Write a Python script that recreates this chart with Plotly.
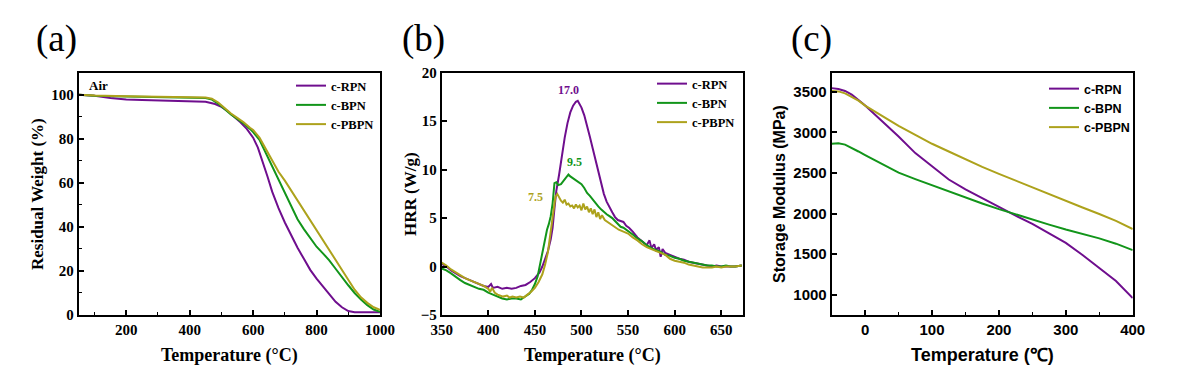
import plotly.graph_objects as go

W, H = 1196, 373
PURPLE = "#6f0e8e"
GREEN = "#12951a"
OLIVE = "#ada21c"
SERIF = "Liberation Serif, Times New Roman, serif"
SANS = "Liberation Sans, Arial, sans-serif"

names = ["c-RPN", "c-BPN", "c-PBPN"]

# ---- (a) TGA ----
tga_T_rpn = [50, 100, 150, 200, 250, 300, 350, 400, 450, 480, 500, 520, 540, 560, 580, 600, 615, 630, 645, 660,
             680, 700, 720, 740, 760, 780, 800, 820, 840, 860, 880, 900, 910, 920, 950, 1000]
tga_rpn = [100, 99.5, 98.5, 97.8, 97.6, 97.4, 97.3, 97.2, 96.8, 95.8, 94.5, 92.5, 90, 87.5, 84.5, 80.5, 76, 70, 63, 56,
           48.5, 42, 36, 30.5, 25.5, 20.5, 16.5, 12.8, 9.5, 6, 3.5, 1.8, 1.4, 1.3, 1.3, 1.3]
tga_T = [50, 100, 200, 300, 400, 450, 470, 490, 510, 530, 550, 570, 590, 600, 620, 640, 660, 680, 700, 720,
         740, 760, 780, 800, 820, 840, 860, 880, 900, 920, 940, 960, 980, 1000]
tga_bpn = [100, 99.5, 99.2, 99, 98.8, 98.5, 97.8, 96, 93.5, 91, 89, 87, 84.5, 83, 79.5, 73.5, 67, 61, 55, 49.5,
           43.5, 39, 35, 31, 28, 24.8, 21, 17, 13.5, 10, 7, 4.5, 2.5, 1.5]
tga_pbpn = [100, 99.6, 99.3, 99.1, 98.9, 98.7, 98.2, 96.5, 94, 91.5, 89.5, 87.5, 85, 84, 80.5, 75.5, 70, 65, 61, 56.5,
            52, 48, 43.5, 38.5, 34.5, 30, 25, 20.5, 16, 11.5, 8, 5.5, 3.5, 2.3]

# ---- (b) HRR ----
hrr_T_rpn = [350, 355, 360, 365, 370, 375, 380, 385, 390, 395, 400, 403, 405, 410, 415, 420, 425, 430, 435, 440,
             445, 450, 455, 458, 461, 464, 467, 469, 471, 473, 476, 479, 482, 485, 488, 491, 494, 496, 498, 500,
             503, 506, 509, 512, 515, 518, 521, 524, 527, 530, 533, 536, 539, 542, 545, 548, 551, 555, 560, 565,
             570, 573, 575, 578, 580, 583, 585, 587, 590, 595, 600, 605, 610, 615, 620, 625, 630, 635, 640, 645,
             650, 655, 660, 665, 672]
hrr_rpn = [0.3, 0.0, -0.4, -0.7, -1.0, -1.2, -1.4, -1.6, -1.8, -2.0, -2.1, -1.8, -2.2, -2.1, -2.3, -2.2, -2.3, -2.2, -2.0, -1.9,
           -1.6, -1.2, -0.6, 0.0, 0.8, 1.6, 2.8, 4.0, 6.0, 7.8, 9.5, 11.5, 13.3, 14.8, 15.9, 16.6, 17.0, 17.1, 16.8, 16.4,
           15.6, 14.6, 13.4, 12.2, 11.0, 9.8, 8.6, 7.5, 6.7, 6.1, 5.6, 5.1, 4.8, 4.7, 4.6, 4.2, 4.0, 3.6, 3.0, 2.6,
           2.2, 2.7, 1.9, 2.3, 1.7, 2.0, 1.0, 1.8, 1.4, 1.2, 1.0, 0.8, 0.7, 0.5, 0.4, 0.3, 0.2, 0.1, 0.0, 0.1,
           0.0, 0.0, 0.0, 0.0, 0.1]
hrr_T_bpn = [350, 355, 360, 365, 370, 375, 380, 385, 390, 395, 400, 405, 410, 415, 420, 425, 430, 435, 438, 441,
             444, 447, 450, 453, 455, 457, 459, 461, 463, 465, 467, 469, 471, 473, 475, 478, 481, 484, 486, 488,
             491, 494, 497, 500, 503, 506, 509, 512, 515, 518, 521, 524, 527, 530, 533, 536, 539, 542, 545, 548,
             551, 555, 560, 565, 570, 575, 580, 585, 590, 595, 600, 605, 610, 615, 620, 625, 630, 635, 640, 645,
             650, 655, 660, 665, 672]
hrr_bpn = [-0.2, -0.4, -0.7, -1.1, -1.4, -1.7, -1.9, -2.1, -2.3, -2.4, -2.7, -2.9, -3.1, -3.3, -3.4, -3.3, -3.3, -3.4, -3.2, -3.0,
           -2.8, -2.4, -1.8, -1.0, 0.0, 0.8, 1.8, 3.0, 3.8, 4.4, 5.2, 6.5, 8.6, 8.7, 8.4, 8.5, 8.9, 9.3, 9.5, 9.3,
           9.1, 8.9, 8.7, 8.5, 8.1, 7.6, 7.3, 6.9, 6.5, 6.2, 5.9, 5.6, 5.4, 5.2, 5.0, 4.7, 4.4, 4.1, 4.0, 3.8,
           3.6, 3.3, 2.9, 2.6, 2.2, 1.9, 1.7, 1.5, 1.2, 1.1, 0.9, 0.8, 0.6, 0.5, 0.4, 0.3, 0.2, 0.1, 0.1, 0.0,
           0.0, 0.1, 0.0, 0.0, 0.1]
hrr_T_pbpn = [350, 355, 360, 365, 370, 375, 380, 385, 390, 395, 400, 402, 404, 407, 410, 413, 416, 420, 423, 426,
              430, 434, 438, 442, 446, 450, 454, 458, 461, 464, 466, 468, 470, 472, 474, 476, 478, 480, 482, 484,
              486, 488, 490, 492, 494, 496, 498, 500, 502, 504, 506, 508, 510, 512, 514, 516, 518, 520, 522, 525,
              528, 531, 534, 537, 540, 545, 550, 555, 560, 565, 570, 575, 580, 585, 590, 595, 600, 605, 610, 615,
              620, 625, 630, 635, 640, 645, 650, 655, 660, 665, 672]
hrr_pbpn = [0.4, 0.1, -0.3, -0.6, -0.9, -1.2, -1.4, -1.6, -1.8, -2.0, -2.3, -2.6, -2.2, -2.7, -2.9, -3.0, -3.1, -3.0, -3.2, -3.1,
            -3.2, -3.1, -3.2, -2.9, -2.6, -2.2, -1.6, -0.8, 0.2, 1.5, 3.0, 4.6, 6.2, 7.2, 7.5, 7.1, 6.8, 6.6, 6.9, 6.4,
            6.5, 6.2, 6.3, 6.0, 6.4, 6.1, 6.3, 5.8, 6.5, 5.9, 6.2, 5.6, 6.0, 5.4, 5.9, 5.1, 5.6, 4.9, 5.3, 4.8,
            4.6, 4.4, 4.2, 4.0, 3.8, 3.6, 3.4, 3.0, 2.7, 2.3, 2.0, 1.8, 1.6, 1.4, 1.2, 0.8, 0.6, 0.5, 0.4, 0.2,
            0.1, 0.0, -0.1, -0.1, -0.1, 0.0, -0.1, 0.0, 0.0, 0.0, 0.1]
peak_labels = ["17.0", "9.5", "7.5"]
peak_x = [486, 493, 451]
peak_y = [18.2, 10.8, 7.2]

# ---- (c) DMA ----
dma_T = [-50, -40, -30, -20, -10, 0, 25, 50, 75, 100, 125, 150, 175, 200, 225, 250, 275, 300, 325, 350, 375, 400]
dma_rpn = [3545, 3535, 3510, 3465, 3400, 3330, 3140, 2950, 2745, 2580, 2420, 2300, 2190, 2080, 1975, 1875, 1760, 1640,
           1490, 1330, 1170, 960]
dma_bpn = [2860, 2865, 2850, 2810, 2765, 2720, 2615, 2505, 2425, 2350, 2270, 2195, 2125, 2055, 1990, 1925, 1865, 1805,
           1750, 1695, 1630, 1550]
dma_pbpn = [3510, 3505, 3480, 3440, 3390, 3330, 3205, 3080, 2970, 2860, 2765, 2665, 2575, 2490, 2405, 2325, 2245, 2160,
            2075, 1995, 1910, 1810]


def px(x):
    return x / W


def py(y):
    return 1 - y / H


fig = go.Figure()
colors = [PURPLE, GREEN, OLIVE]

panels = [
    ([(tga_T_rpn, tga_rpn), (tga_T, tga_bpn), (tga_T, tga_pbpn)], "x", "y", "legend"),
    ([(hrr_T_rpn, hrr_rpn), (hrr_T_bpn, hrr_bpn), (hrr_T_pbpn, hrr_pbpn)], "x2", "y2", "legend2"),
    ([(dma_T, dma_rpn), (dma_T, dma_bpn), (dma_T, dma_pbpn)], "x3", "y3", "legend3"),
]
for series, xa, ya, lg in panels:
    for (xs, ys), c, n in zip(series, colors, names):
        fig.add_trace(go.Scatter(x=xs, y=ys, mode="lines", name=n, line=dict(color=c, width=2),
                                 xaxis=xa, yaxis=ya, legend=lg))

ydom = [py(315), py(72.7)]
xdoms = [[px(78.7), px(380)], [px(441.7), px(742.7)], [px(831.7), px(1132.7)]]


def axis(dom, rng, dtick, font, anchor, tick0=0):
    return dict(domain=dom, range=rng, dtick=dtick, tick0=tick0, showline=True, linecolor="black", linewidth=2,
                mirror=True, ticks="inside", ticklen=5, tickwidth=1.5, tickcolor="black",
                minor=dict(ticks="inside", ticklen=3, tickwidth=1, tickcolor="black", nticks=2),
                showgrid=False, zeroline=False, anchor=anchor, automargin=False,
                tickfont=dict(family=font, size=15, color="black", weight="bold"))


fig.update_layout(
    width=W, height=H, margin=dict(l=0, r=0, t=0, b=0, autoexpand=False),
    plot_bgcolor="white", paper_bgcolor="white",
    xaxis=axis(xdoms[0], [50, 1000], 200, SERIF, "y"),
    yaxis=axis(ydom, [0, 110], 20, SERIF, "x"),
    xaxis2=axis(xdoms[1], [350, 673], 50, SERIF, "y2"),
    yaxis2=axis(ydom, [-5, 20], 5, SERIF, "x2"),
    xaxis3=axis(xdoms[2], [-50, 400], 100, SANS, "y3"),
    yaxis3=axis(ydom, [752, 3735], 500, SANS, "x3"),
    showlegend=True,
)

leg_common = dict(bgcolor="rgba(0,0,0,0)", borderwidth=0, xanchor="left", yanchor="top",
                  itemwidth=30, tracegroupgap=0)
fig.update_layout(
    legend=dict(x=px(291), y=py(71), font=dict(family=SERIF, size=12.5, color="black", weight="bold"), **leg_common),
    legend2=dict(x=px(652), y=py(69), font=dict(family=SERIF, size=12.5, color="black", weight="bold"), **leg_common),
    legend3=dict(x=px(1044), y=py(74), font=dict(family=SANS, size=12.5, color="black", weight="bold"), **leg_common),
)

ann = []
for lab, x in zip(["(a)", "(b)", "(c)"], [34, 400, 789]):
    ann.append(dict(text=lab, x=px(x), y=py(39), xref="paper", yref="paper", xanchor="left", yanchor="middle",
                    showarrow=False, font=dict(family=SERIF, size=37, color="black")))

xt = [(229, "Temperature (°C)", SERIF), (592, "Temperature (°C)", SERIF), (983, "Temperature (℃)", SANS)]
for x, t, f in xt:
    ann.append(dict(text=t, x=px(x), y=py(355), xref="paper", yref="paper", xanchor="center", yanchor="middle",
                    showarrow=False, font=dict(family=f, size=18, color="black", weight="bold")))
yt = [(37, "Residual Weight (%)", SERIF, 17), (410, "HRR (W/g)", SERIF, 17), (779, "Storage Modulus (MPa)", SANS, 16)]
for x, t, f, s in yt:
    ann.append(dict(text=t, x=px(x), y=py(194), xref="paper", yref="paper", xanchor="center", yanchor="middle",
                    textangle=-90, showarrow=False, font=dict(family=f, size=s, color="black", weight="bold")))

ann.append(dict(text="Air", x=px(87), y=py(85), xref="paper", yref="paper", xanchor="left", yanchor="middle",
                showarrow=False, font=dict(family=SERIF, size=13, color="black", weight="bold")))
for t, x, y, c in zip(peak_labels, peak_x, peak_y, colors):
    ann.append(dict(text=t, x=x, y=y, xref="x2", yref="y2", xanchor="center", yanchor="middle", showarrow=False,
                    font=dict(family=SERIF, size=12, color=c, weight="bold")))
fig.update_layout(annotations=ann)

fig.write_html("out.html", config={"displayModeBar": False},
               post_script="document.body.style.margin='0';")
